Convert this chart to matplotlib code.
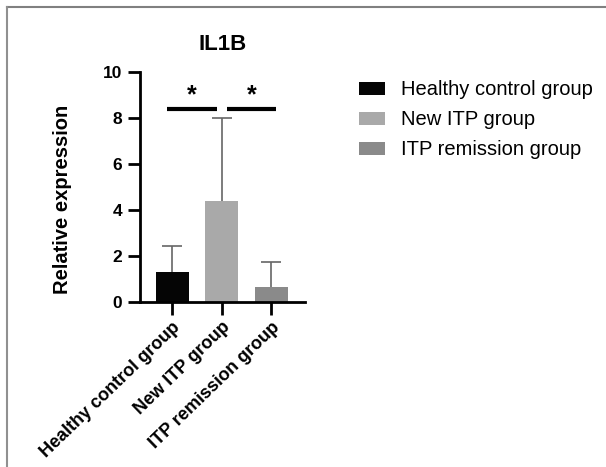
import matplotlib.pyplot as plt
import numpy as np

plt.rcParams['font.family'] = ['Liberation Sans', 'DejaVu Sans']

# données
groupes = ["Healthy control group", "New ITP group", "ITP remission group"]
moyennes = [1.3, 4.4, 0.65]
erreurs = [1.15, 3.6, 1.1]
couleurs = ["#050505", "#a9a9a9", "#8a8a8a"]
sig_y = 8.4

fig = plt.figure(figsize=(6.06, 4.67), dpi=100)
ax = fig.add_axes([0.231, 0.353, 0.272, 0.493])

x = np.arange(len(groupes))
for i in range(len(groupes)):
    # la moitié basse de la barre d'erreur est cachée par la barre
    ax.errorbar(x[i], moyennes[i], yerr=erreurs[i], color="#666666",
                capsize=7, elinewidth=1.2, capthick=1.2, zorder=1)
    ax.bar(x[i], moyennes[i], width=0.67, color=couleurs[i], label=groupes[i], zorder=2)

# barres de significativité
ax.plot([x[0] - 0.1, x[1] - 0.1], [sig_y, sig_y], color="black", lw=3, solid_capstyle="butt", clip_on=False)
ax.plot([x[1] + 0.1, x[2] + 0.1], [sig_y, sig_y], color="black", lw=3, solid_capstyle="butt", clip_on=False)
ax.text((x[0] + x[1]) / 2 - 0.1, sig_y + 0.05, "*", ha="center", va="bottom", fontsize=18, fontweight="bold")
ax.text((x[1] + x[2]) / 2 + 0.1, sig_y + 0.05, "*", ha="center", va="bottom", fontsize=18, fontweight="bold")

ax.set_xlim(-0.65, 2.68)
ax.set_ylim(0, 10)
ax.set_yticks([0, 2, 4, 6, 8, 10])
ax.set_xticks(x)
ax.set_xticklabels(groupes, rotation=44, ha="right", rotation_mode="anchor",
                   fontsize=13, fontweight="bold")
for lab in ax.get_yticklabels():
    lab.set_fontweight("bold")
    lab.set_fontsize(12.5)
ax.tick_params(axis="y", length=9, width=2, pad=4)
ax.tick_params(axis="x", length=9, width=2, pad=3)
for s in ["top", "right"]:
    ax.spines[s].set_visible(False)
for s in ["left", "bottom"]:
    ax.spines[s].set_linewidth(2)

ax.set_ylabel("Relative expression", fontsize=14.5, fontweight="bold")
ax.yaxis.set_label_coords(-0.41, 0.448)
ax.set_title("IL1B", fontsize=16, fontweight="bold", pad=16)

fig.legend(*ax.get_legend_handles_labels(), loc="upper left", bbox_to_anchor=(0.592, 0.828),
           frameon=False, fontsize=14.5, borderpad=0, borderaxespad=0,
           handlelength=1.3, handleheight=0.6, labelspacing=0.55, handletextpad=0.8)

# cadre gris en haut et à gauche
fig.add_artist(plt.Line2D([0.0115, 1.0], [0.985, 0.985], color="#808080", lw=1.5))
fig.add_artist(plt.Line2D([0.0115, 0.0115], [0.0, 0.985], color="#909090", lw=1.5))

fig.savefig("out.png", dpi=100)
